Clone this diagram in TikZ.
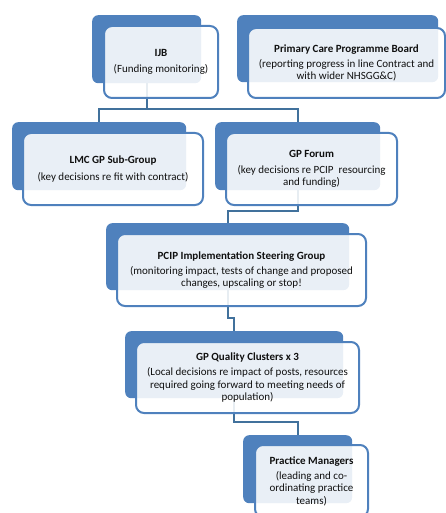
\documentclass[tikz,border=0pt]{standalone}
\usepackage{fontspec}
\setmainfont{Carlito}
\definecolor{boxblue}{HTML}{4F81BD}
\definecolor{linkblue}{HTML}{41719C}
\definecolor{txt}{HTML}{101010}
\begin{document}
\begin{tikzpicture}[x=1pt,y=-1pt,
  back/.style={fill=boxblue, rounded corners=6pt, anchor=north west, inner sep=0pt},
  front/.style={draw=boxblue, line width=2pt, fill=white, fill opacity=0.88, text opacity=1,
     rounded corners=8pt, anchor=north west, inner sep=0pt},
  label/.style={align=center, text=txt, font=\fontsize{11}{12.4}\selectfont, inner sep=0pt},
  conn/.style={draw=linkblue, line width=2pt}]
\useasboundingbox (0,0) rectangle (446,513);
% back boxes
\node[back, minimum width=109pt, minimum height=68pt] (ijbB) at (92,15) {};
\node[back, minimum width=201pt, minimum height=67pt] (pcpbB) at (237,15) {};
\node[back, minimum width=174pt, minimum height=68pt] (lmcB) at (12,122) {};
\node[back, minimum width=165pt, minimum height=68pt] (gpfB) at (215,122) {};
\node[back, minimum width=243pt, minimum height=67pt] (pcipB) at (106,223) {};
\node[back, minimum width=218pt, minimum height=67pt] (gpqB) at (125,331) {};
\node[back, minimum width=109pt, minimum height=68pt] (pmB) at (243,435) {};
% connectors
\draw[conn] (ijbB.south) -- ++(0,26) -| (lmcB.north);
\draw[conn] (ijbB.south) -- ++(0,26) -| (gpfB.north);
\draw[conn] (gpfB.south) -- ++(0,21) -| (pcipB.north);
\draw[conn] (pcipB.south) -- ++(0,28) -| (gpqB.north);
\draw[conn] (gpqB.south) -- ++(0,24) -| (pmB.north);
% front boxes
\node[front, minimum width=114pt, minimum height=72pt] (ijbF) at (103,25) {};
\node[front, minimum width=197pt, minimum height=70pt] (pcpbF) at (247,27) {};
\node[front, minimum width=180pt, minimum height=72pt] (lmcF) at (22,132) {};
\node[front, minimum width=171pt, minimum height=72pt] (gpfF) at (225,132) {};
\node[front, minimum width=249pt, minimum height=72pt] (pcipF) at (116,233) {};
\node[front, minimum width=223pt, minimum height=71pt] (gpqF) at (135,341) {};
\node[front, minimum width=113pt, minimum height=72pt] (pmF) at (254,444) {};
% texts
\node[label] (ijbT) at (ijbF.center) {\textbf{IJB}\\[4pt](Funding monitoring)};
\node[label] (pcpbT) at (pcpbF.center) {\textbf{Primary Care Programme Board}\\[3pt](reporting progress in line Contract and\\with wider NHSGG\&C)};
\node[label] (lmcT) at (lmcF.center) {\textbf{LMC GP Sub-Group}\\[4pt](key decisions re fit with contract)};
\node[label] (gpfT) at (gpfF.center) {\textbf{GP Forum}\\[3pt](key decisions re PCIP\ \ resourcing\\and funding)};
\node[label] (pcipT) at (pcipF.center) {\textbf{PCIP Implementation Steering Group}\\[3pt](monitoring impact, tests of change and proposed\\changes, upscaling or stop!};
\node[label] (gpqT) at (gpqF.center) {\textbf{GP Quality Clusters x 3}\\[3pt](Local decisions re impact of posts, resources\\required going forward to meeting needs of\\population)};
\node[label] (pmT) at (pmF.center) {\textbf{Practice Managers}\\[3pt](leading and co-\\ordinating practice\\teams)};
\end{tikzpicture}
\end{document}
